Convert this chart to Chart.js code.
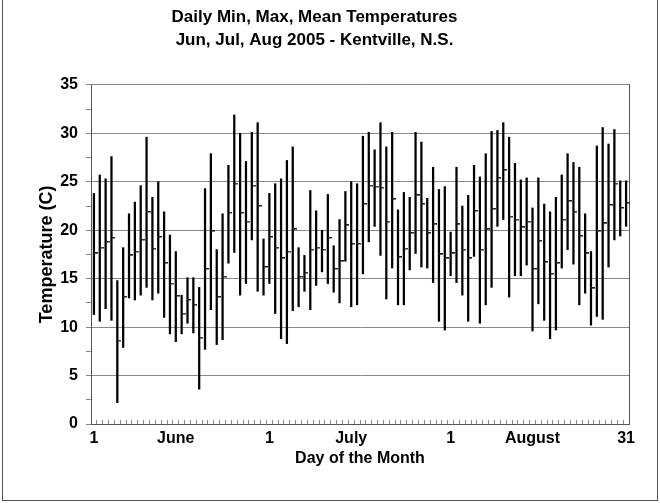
<!DOCTYPE html>
<html>
<head>
<meta charset="utf-8">
<script src="https://cdn.jsdelivr.net/npm/chart.js@4/dist/chart.umd.min.js"></script>
<style>
  body { margin: 0; background: #fff; }
  #wrap { position: relative; width: 660px; height: 503px; }
  #frame { position: absolute; left: 2px; top: -1px; width: 654px; height: 500px; border: 1px solid #555; pointer-events: none; }
</style>
</head>
<body>
<div id="wrap">
  <canvas id="myChart1" width="660" height="503"></canvas>
  <div id="frame"></div>
</div>
<script>
// Jun, Jul, Aug 2005 - Kentville, N.S.
var monthNames = ['Jun', 'Jul', 'Aug'];
var monthDays = [30, 31, 31];

var minTemp = [
    11.3, 10.6, 11.9, 10.7, 2.2, 7.9, 13.0, 12.8, 13.3, 14.1,
    12.8, 13.5, 11.0, 9.3, 8.5, 9.3, 10.4, 9.4, 3.6, 7.7,
    11.8, 8.2, 8.7, 16.6, 17.7, 13.3, 14.5, 19.0, 13.7, 13.3,
    14.5, 11.4, 8.8, 8.3, 11.7, 12.1, 13.7, 11.8, 14.3, 15.7,
    14.5, 13.6, 12.5, 16.8, 12.1, 12.3, 15.5, 18.8, 20.4, 17.4,
    12.9, 16.1, 12.3, 12.3, 15.9, 17.6, 16.2, 16.1, 14.6, 10.6,
    9.7,
    15.3, 14.6, 13.3, 10.6, 17.3, 10.4, 12.3, 14.1, 20.4, 21.1,
    13.1, 15.3, 15.3, 16.4, 9.6, 12.4, 10.7, 8.8, 9.7, 16.1,
    18.0, 16.5, 12.3, 13.5, 10.2, 11.1, 10.8, 16.2, 19.0, 19.4,
    20.4
];
var maxTemp = [
    23.8, 25.7, 25.3, 27.6, 14.8, 18.2, 21.7, 22.9, 24.6, 29.6,
    23.4, 25.0, 21.9, 19.5, 17.8, 13.3, 15.1, 15.1, 14.1, 24.3,
    27.9, 18.0, 21.7, 26.7, 31.9, 30.0, 27.1, 30.1, 31.1, 19.1,
    23.8, 24.8, 25.3, 27.2, 28.6, 18.2, 17.4, 24.1, 22.0, 20.0,
    23.7, 18.4, 21.1, 24.0, 25.0, 24.8, 29.7, 30.1, 28.3, 31.1,
    28.6, 30.1, 22.1, 23.9, 23.4, 30.1, 29.1, 23.3, 26.5, 24.2,
    24.5,
    19.8, 26.5, 22.5, 23.6, 26.7, 25.5, 27.9, 30.2, 30.3, 31.1,
    29.6, 26.9, 25.2, 25.4, 22.3, 25.4, 22.7, 21.9, 23.4, 25.7,
    27.9, 27.0, 26.5, 21.7, 17.8, 28.7, 30.6, 28.9, 30.4, 25.1,
    25.1
];
var meanTemp = [
    17.6, 18.2, 18.8, 19.2, 8.6, 13.1, 17.4, 17.8, 19.0, 21.9,
    18.1, 19.3, 16.6, 14.5, 13.2, 11.4, 12.8, 12.3, 8.9, 16.0,
    19.9, 13.1, 15.2, 21.8, 24.8, 21.8, 20.9, 24.6, 22.5, 16.2,
    19.3, 18.2, 17.1, 17.8, 20.1, 15.2, 15.6, 18.0, 18.2, 18.0,
    19.2, 16.0, 16.8, 20.5, 18.6, 18.6, 22.7, 24.6, 24.5, 24.4,
    20.9, 23.2, 17.2, 18.1, 19.7, 23.6, 22.7, 19.7, 20.6, 17.5,
    17.1,
    17.6, 20.6, 18.0, 17.1, 22.0, 18.0, 20.1, 22.2, 25.4, 26.2,
    21.4, 21.1, 20.3, 20.9, 16.0, 18.9, 16.7, 15.5, 16.6, 21.1,
    23.0, 21.9, 19.4, 17.6, 14.0, 19.9, 20.7, 22.6, 24.8, 22.3,
    22.8
];

// which day (1..92) gets which bottom label
var tickDays = [1, 15, 31, 45, 62, 76, 92];
var tickText = ['1', 'June', '1', 'July', '1', 'August', '31'];

var labels = [];
monthNames.forEach(function (m, k) {
    for (var d = 1; d <= monthDays[k]; d++) labels.push(m + ' ' + d);
});

// little dash to the right of each bar for the mean
var dash = document.createElement('canvas');
dash.width = 8;
dash.height = 2;
var dctx = dash.getContext('2d');
dctx.fillStyle = '#222';
dctx.fillRect(4, 0, 4, 1.5);

var font = "'Liberation Sans', Arial, sans-serif";
var ctx = document.getElementById('myChart1');

new Chart(ctx, {
    data: {
        labels: labels,
        datasets: [
            {
                type: 'bar',
                label: 'Min-Max',
                data: minTemp.map(function (v, i) { return [v, maxTemp[i]]; }),
                backgroundColor: '#000',
                barThickness: 1.6,
                order: 2
            },
            {
                type: 'line',
                label: 'Mean',
                data: meanTemp,
                showLine: false,
                pointStyle: dash,
                order: 1
            }
        ]
    },
    options: {
        responsive: false,
        animation: false,
        layout: { padding: { left: 0, right: 31, top: 0, bottom: 0 } },
        plugins: {
            legend: { display: false },
            tooltip: { enabled: false },
            title: {
                display: true,
                text: ['Daily Min, Max, Mean Temperatures', 'Jun, Jul, Aug 2005 - Kentville, N.S.'],
                color: '#000',
                font: { family: font, size: 17, weight: 'bold', lineHeight: 1.35 },
                padding: { top: 6, bottom: 33 }
            }
        },
        scales: {
            x: {
                type: 'category',
                offset: true,
                grid: {
                    offset: true,
                    drawOnChartArea: false,
                    drawTicks: true,
                    tickLength: -4,
                    color: '#888'
                },
                border: { display: true, color: '#555' },
                ticks: {
                    autoSkip: false,
                    maxRotation: 0,
                    minRotation: 0,
                    padding: 9,
                    color: '#000',
                    font: { family: font, size: 16, weight: 'bold' },
                    callback: function (val, idx) {
                        var k = tickDays.indexOf(idx + 1);
                        return k >= 0 ? tickText[k] : '';
                    }
                },
                title: {
                    display: true,
                    text: 'Day of the Month',
                    color: '#000',
                    font: { family: font, size: 16, weight: 'bold' },
                    padding: { top: 35, bottom: 35 }
                },
                afterFit: function (s) { s.height = 79; }
            },
            y: {
                type: 'linear',
                position: 'left',
                min: 0,
                max: 35,
                grid: {
                    color: function (c) { return c.tick && c.tick.value % 5 === 0 ? '#888' : 'rgba(0,0,0,0)'; },
                    tickColor: '#888',
                    tickLength: 5
                },
                border: { display: true, color: '#555' },
                ticks: {
                    stepSize: 2.5,
                    padding: 8,
                    color: '#000',
                    font: { family: font, size: 16, weight: 'bold' },
                    callback: function (v) { return v % 5 === 0 ? v : ''; }
                },
                title: {
                    display: true,
                    text: 'Temperature (C)',
                    color: '#000',
                    font: { family: font, size: 18, weight: 'bold' },
                    padding: { top: 36, bottom: 36 }
                },
                afterFit: function (s) { s.width = 91; }
            },
            yRight: {
                type: 'linear',
                position: 'right',
                min: 0,
                max: 35,
                grid: { display: false, drawTicks: false },
                ticks: { display: false },
                border: { display: true, color: '#555' },
                afterFit: function (s) { s.width = 0; }
            }
        }
    }
});
</script>
</body>
</html>
